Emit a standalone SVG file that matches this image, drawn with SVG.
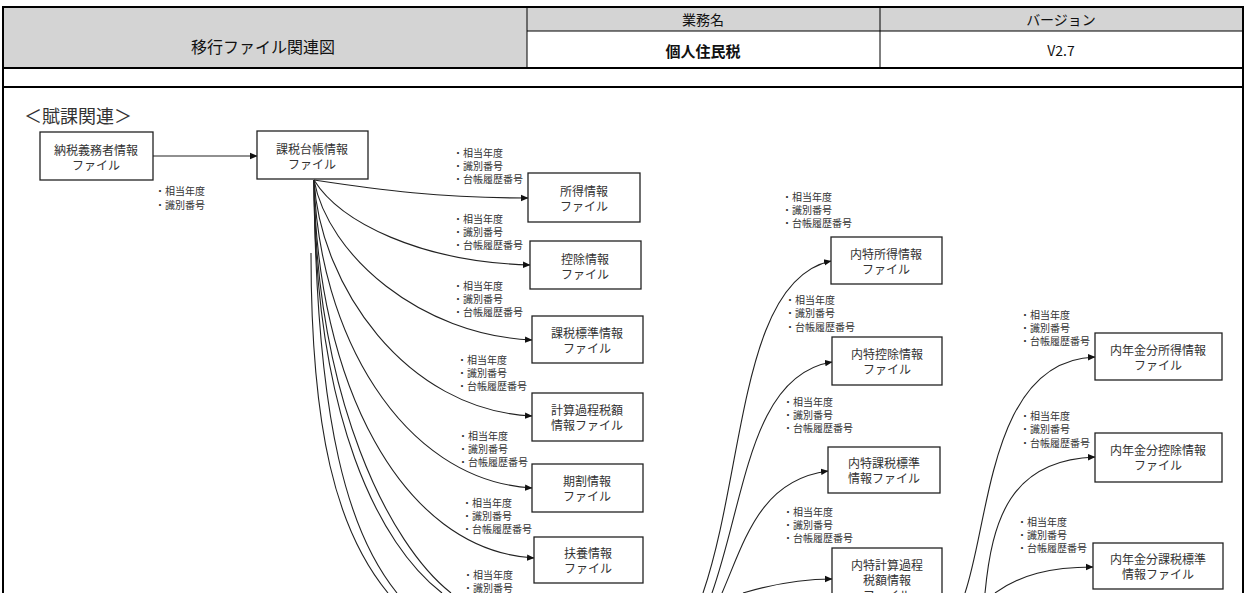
<svg xmlns="http://www.w3.org/2000/svg" width="1247" height="593" viewBox="0 0 1247 593">
<style>
.hd{font-family:"Noto Sans CJK JP","Noto Sans CJK SC",sans-serif;fill:#111;text-anchor:middle;dominant-baseline:central}
.box{fill:#fff;stroke:#222;stroke-width:1.3}
.bt{font-family:"Noto Sans CJK JP","Noto Sans CJK SC",sans-serif;font-size:12px;fill:#333;text-anchor:middle;dominant-baseline:central}
.lb{font-family:"Noto Sans CJK JP","Noto Sans CJK SC",sans-serif;font-size:10px;fill:#333;dominant-baseline:central}
.cn{fill:none;stroke:#222;stroke-width:1.1}
.frame{fill:none;stroke:#000;stroke-width:2}
</style>
<defs>
<marker id="ah" markerWidth="8" markerHeight="8" refX="7" refY="4" orient="auto" markerUnits="userSpaceOnUse">
<path d="M0,0.8 L7.5,4 L0,7.2 Z" fill="#111"/>
</marker>
</defs>
<rect x="0" y="0" width="1247" height="593" fill="#fff"/>
<g id="header">
<rect x="3" y="7" width="524" height="61" fill="#d4d4d4"/>
<rect x="527" y="7" width="716" height="24" fill="#d4d4d4"/>
<line x1="527" y1="31" x2="1243" y2="31" stroke="#000" stroke-width="1"/>
<line x1="527" y1="7" x2="527" y2="68" stroke="#000" stroke-width="1"/>
<line x1="880" y1="7" x2="880" y2="68" stroke="#000" stroke-width="1"/>
<rect x="3" y="7" width="1240" height="61" class="frame"/>
<line x1="3" y1="68" x2="3" y2="87" stroke="#000" stroke-width="2"/>
<line x1="1243" y1="68" x2="1243" y2="87" stroke="#000" stroke-width="2"/>
<text class="hd" x="263" y="46" font-size="16">移行ファイル関連図</text>
<text class="hd" x="703" y="19" font-size="14">業務名</text>
<text class="hd" x="1061" y="19" font-size="14">バージョン</text>
<text class="hd" x="703" y="50" font-size="15" font-weight="bold">個人住民税</text>
<text class="hd" x="1061" y="50" font-size="14">V2.7</text>
</g>
<g id="main-frame">
<path d="M3,600 L3,87 L1243,87 L1243,600" class="frame"/>
<text x="24" y="115" font-family="Noto Sans CJK JP, sans-serif" font-size="18" fill="#333" dominant-baseline="central">＜賦課関連＞</text>
</g>
<g id="connectors">
<line class="cn" x1="153" y1="156" x2="257" y2="156" marker-end="url(#ah)"/>
<path class="cn" d="M314,180 C380,190 440,198 528,198" marker-end="url(#ah)"/>
<path class="cn" d="M314,180 C340,222 420,262 530,265" marker-end="url(#ah)"/>
<path class="cn" d="M314,180 C328,255 420,335 532,340" marker-end="url(#ah)"/>
<path class="cn" d="M314,180 C320,285 405,410 532,416" marker-end="url(#ah)"/>
<path class="cn" d="M314,180 C318,330 400,480 532,488" marker-end="url(#ah)"/>
<path class="cn" d="M314,180 C316,380 400,550 534,558" marker-end="url(#ah)"/>
<path class="cn" d="M314,180 C315,400 390,545 451,593"/>
<path class="cn" d="M314,180 C314,420 380,545 442,593"/>
<path class="cn" d="M314,180 C316,430 350,535 397,593"/>
<path class="cn" d="M311,253 C311,430 336,530 388,593"/>
<path class="cn" d="M703,593 C745,470 740,280 831,261" marker-end="url(#ah)"/>
<path class="cn" d="M712,593 C745,500 750,375 832,362" marker-end="url(#ah)"/>
<path class="cn" d="M722,593 C745,540 760,480 828,471" marker-end="url(#ah)"/>
<path class="cn" d="M743,593 C770,585 800,579 832,579" marker-end="url(#ah)"/>
<path class="cn" d="M965,593 C990,520 990,360 1095,357" marker-end="url(#ah)"/>
<path class="cn" d="M985,593 C992,520 1010,460 1095,457" marker-end="url(#ah)"/>
<path class="cn" d="M995,593 C1020,575 1050,567 1093,567" marker-end="url(#ah)"/>
<text class="lb"><tspan x="155" y="190">・相当年度</tspan><tspan x="155" y="204">・識別番号</tspan></text>
<text class="lb"><tspan x="453" y="152">・相当年度</tspan><tspan x="453" y="165">・識別番号</tspan><tspan x="453" y="178">・台帳履歴番号</tspan></text>
<text class="lb"><tspan x="453" y="218">・相当年度</tspan><tspan x="453" y="231">・識別番号</tspan><tspan x="453" y="244">・台帳履歴番号</tspan></text>
<text class="lb"><tspan x="453" y="285">・相当年度</tspan><tspan x="453" y="298">・識別番号</tspan><tspan x="453" y="311">・台帳履歴番号</tspan></text>
<text class="lb"><tspan x="457" y="359">・相当年度</tspan><tspan x="457" y="372">・識別番号</tspan><tspan x="457" y="385">・台帳履歴番号</tspan></text>
<text class="lb"><tspan x="458" y="435">・相当年度</tspan><tspan x="458" y="448">・識別番号</tspan><tspan x="458" y="461">・台帳履歴番号</tspan></text>
<text class="lb"><tspan x="462" y="502">・相当年度</tspan><tspan x="462" y="515">・識別番号</tspan><tspan x="462" y="528">・台帳履歴番号</tspan></text>
<text class="lb"><tspan x="463" y="574">・相当年度</tspan><tspan x="463" y="587">・識別番号</tspan></text>
<text class="lb"><tspan x="782" y="196">・相当年度</tspan><tspan x="782" y="209">・識別番号</tspan><tspan x="782" y="222">・台帳履歴番号</tspan></text>
<text class="lb"><tspan x="785" y="299">・相当年度</tspan><tspan x="785" y="312">・識別番号</tspan><tspan x="785" y="326">・台帳履歴番号</tspan></text>
<text class="lb"><tspan x="783" y="401">・相当年度</tspan><tspan x="783" y="414">・識別番号</tspan><tspan x="783" y="427">・台帳履歴番号</tspan></text>
<text class="lb"><tspan x="783" y="511">・相当年度</tspan><tspan x="783" y="524">・識別番号</tspan><tspan x="783" y="537">・台帳履歴番号</tspan></text>
<text class="lb"><tspan x="1020" y="314">・相当年度</tspan><tspan x="1020" y="327">・識別番号</tspan><tspan x="1020" y="340">・台帳履歴番号</tspan></text>
<text class="lb"><tspan x="1020" y="415">・相当年度</tspan><tspan x="1020" y="428">・識別番号</tspan><tspan x="1020" y="442">・台帳履歴番号</tspan></text>
<text class="lb"><tspan x="1017" y="521">・相当年度</tspan><tspan x="1017" y="534">・識別番号</tspan><tspan x="1017" y="547">・台帳履歴番号</tspan></text>
</g>
<g id="n-nouzei"><rect class="box" x="40" y="132" width="113" height="48"/><text class="bt" x="96" y="149">納税義務者情報</text><text class="bt" x="96" y="164">ファイル</text></g>
<g id="n-kazei-daicho"><rect class="box" x="257" y="131" width="111" height="48"/><text class="bt" x="312" y="148">課税台帳情報</text><text class="bt" x="312" y="163">ファイル</text></g>
<g id="n-shotoku"><rect class="box" x="528" y="173" width="112" height="49"/><text class="bt" x="584" y="190">所得情報</text><text class="bt" x="584" y="205">ファイル</text></g>
<g id="n-kojo"><rect class="box" x="530" y="241" width="111" height="48"/><text class="bt" x="585" y="258">控除情報</text><text class="bt" x="585" y="273">ファイル</text></g>
<g id="n-kazei-hyojun"><rect class="box" x="532" y="316" width="111" height="47"/><text class="bt" x="587" y="332">課税標準情報</text><text class="bt" x="587" y="347">ファイル</text></g>
<g id="n-keisan"><rect class="box" x="532" y="393" width="111" height="48"/><text class="bt" x="587" y="409">計算過程税額</text><text class="bt" x="587" y="424">情報ファイル</text></g>
<g id="n-kiwari"><rect class="box" x="532" y="464" width="111" height="48"/><text class="bt" x="587" y="480">期割情報</text><text class="bt" x="587" y="495">ファイル</text></g>
<g id="n-fuyo"><rect class="box" x="534" y="537" width="109" height="46"/><text class="bt" x="588" y="552">扶養情報</text><text class="bt" x="588" y="567">ファイル</text></g>
<g id="n-naitoku-shotoku"><rect class="box" x="831" y="237" width="111" height="47"/><text class="bt" x="886" y="253">内特所得情報</text><text class="bt" x="886" y="268">ファイル</text></g>
<g id="n-naitoku-kojo"><rect class="box" x="832" y="337" width="110" height="48"/><text class="bt" x="887" y="353">内特控除情報</text><text class="bt" x="887" y="368">ファイル</text></g>
<g id="n-naitoku-kazei"><rect class="box" x="828" y="447" width="112" height="46"/><text class="bt" x="884" y="462">内特課税標準</text><text class="bt" x="884" y="477">情報ファイル</text></g>
<g id="n-naitoku-keisan"><rect class="box" x="832" y="548" width="110" height="70"/><text class="bt" x="887" y="564">内特計算過程</text><text class="bt" x="887" y="579">税額情報</text><text class="bt" x="887" y="594">ファイル</text></g>
<g id="n-nenkin-shotoku"><rect class="box" x="1095" y="333" width="127" height="47"/><text class="bt" x="1158" y="349">内年金分所得情報</text><text class="bt" x="1158" y="364">ファイル</text></g>
<g id="n-nenkin-kojo"><rect class="box" x="1095" y="433" width="127" height="49"/><text class="bt" x="1158" y="449">内年金分控除情報</text><text class="bt" x="1158" y="464">ファイル</text></g>
<g id="n-nenkin-kazei"><rect class="box" x="1093" y="543" width="130" height="46"/><text class="bt" x="1158" y="558">内年金分課税標準</text><text class="bt" x="1158" y="573">情報ファイル</text></g>
</svg>
